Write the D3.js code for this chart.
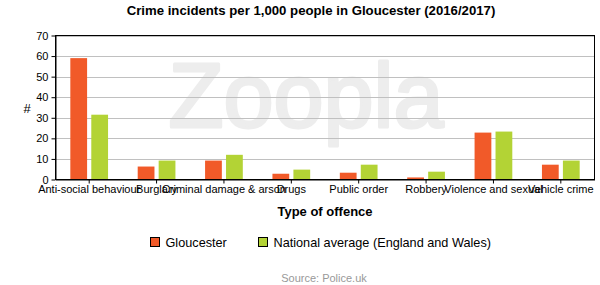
<!DOCTYPE html>
<html lang="en">
<head>
    <meta charset="UTF-8">
    <title>Crime incidents - Gloucester</title>
    <style>
        body { margin: 0; background: #fff; }
        svg { display: block; font-family: Arial, "Liberation Sans", sans-serif; }
        .grid line { stroke: #c0c0c0; stroke-width: 1px; }
        .axis path, .axis line { stroke: #000; }
        .axis text { font-size: 11px; fill: #000; }
    </style>
    <script src="https://d3js.org/d3.v7.min.js"></script>
</head>
<body>
    <script>
        // chart data
        const categories = ["Anti-social behaviour", "Burglary", "Criminal damage & arson", "Drugs",
            "Public order", "Robbery", "Violence and sexual", "Vehicle crime"];
        const seriesNames = ["Gloucester", "National average (England and Wales)"];
        const gloucester = [59, 6.3, 9.2, 2.8, 3.3, 1.0, 22.8, 7.2];
        const national = [31.5, 9.2, 12.0, 4.8, 7.2, 3.8, 23.3, 9.2];
        const yTicks = [0, 10, 20, 30, 40, 50, 60, 70];
        const colors = ["#f15a29", "#b3d335"];

        const width = 600, height = 285;
        const margin = { left: 55.5, right: 5.5, top: 35.5, bottom: 105.5 };

        const svg = d3.select("body").append("svg")
            .attr("width", width).attr("height", height);

        const x = d3.scaleBand().domain(categories)
            .range([margin.left, width - margin.right]);
        const xInner = d3.scaleBand().domain(seriesNames)
            .range([x.bandwidth() * 0.22, x.bandwidth() * 0.78]).paddingInner(0.2);
        const y = d3.scaleLinear().domain([0, 70])
            .range([height - margin.bottom, margin.top]);

        // watermark
        svg.append("text")
            .attr("x", 306).attr("y", 127)
            .attr("text-anchor", "middle")
            .style("font-family", "Arial, 'Liberation Sans', sans-serif")
            .style("font-size", "90px")
            .style("fill", "#ededed")
            .style("stroke", "#ededed")
            .style("stroke-width", 3)
            .style("stroke-linejoin", "round")
            .text("Zoopla");

        // grid lines
        svg.append("g").attr("class", "grid")
            .selectAll("line").data(yTicks.slice(1)).enter().append("line")
            .attr("x1", margin.left).attr("x2", width - margin.right)
            .attr("y1", d => Math.round(y(d)) + 0.5).attr("y2", d => Math.round(y(d)) + 0.5);

        // bars
        const rows = categories.map((c, i) => ({ cat: c, vals: [gloucester[i], national[i]] }));
        const groups = svg.append("g").selectAll("g").data(rows).enter().append("g")
            .attr("transform", d => `translate(${x(d.cat)},0)`);
        groups.selectAll("rect")
            .data(d => d.vals.map((v, j) => ({ name: seriesNames[j], v: v, j: j })))
            .enter().append("rect")
            .attr("x", d => xInner(d.name))
            .attr("width", xInner.bandwidth())
            .attr("y", d => y(d.v))
            .attr("height", d => y(0) - y(d.v))
            .attr("fill", d => colors[d.j]);

        // axes
        svg.append("g").attr("class", "axis")
            .attr("transform", `translate(${margin.left},0)`)
            .call(d3.axisLeft(y).tickValues(yTicks).tickSize(4).tickSizeOuter(0).tickPadding(3));
        svg.append("g").attr("class", "axis")
            .attr("transform", `translate(0,${height - margin.bottom})`)
            .call(d3.axisBottom(x).tickSize(4).tickSizeOuter(0).tickPadding(2));

        // frame
        svg.append("rect")
            .attr("x", margin.left).attr("y", margin.top)
            .attr("width", width - margin.right - margin.left)
            .attr("height", height - margin.bottom - margin.top)
            .attr("fill", "none").attr("stroke", "#000");

        // title
        svg.append("text")
            .attr("x", 311).attr("y", 15)
            .attr("text-anchor", "middle")
            .style("font-size", "13.2px").style("font-weight", "bold")
            .text("Crime incidents per 1,000 people in Gloucester (2016/2017)");

        svg.append("text")
            .attr("x", (margin.left + width - margin.right) / 2).attr("y", 216)
            .attr("text-anchor", "middle")
            .style("font-size", "13px").style("font-weight", "bold")
            .text("Type of offence");

        svg.append("text")
            .attr("x", 27).attr("y", 113)
            .attr("text-anchor", "middle")
            .style("font-size", "13px")
            .text("#");

        // legend
        const legendX = [150.5, 258.5];
        const legend = svg.append("g").selectAll("g").data(seriesNames).enter().append("g")
            .attr("transform", (d, i) => `translate(${legendX[i]},237.5)`);
        legend.append("rect")
            .attr("width", 9).attr("height", 9)
            .attr("fill", (d, i) => colors[i]).attr("stroke", "#000");
        legend.append("text")
            .attr("x", 15).attr("y", 9.5)
            .style("font-size", "12.7px")
            .text(d => d);

        svg.append("text")
            .attr("x", 324).attr("y", 282)
            .attr("text-anchor", "middle")
            .style("font-size", "11px").style("fill", "#999")
            .text("Source: Police.uk");
    </script>
</body>
</html>
